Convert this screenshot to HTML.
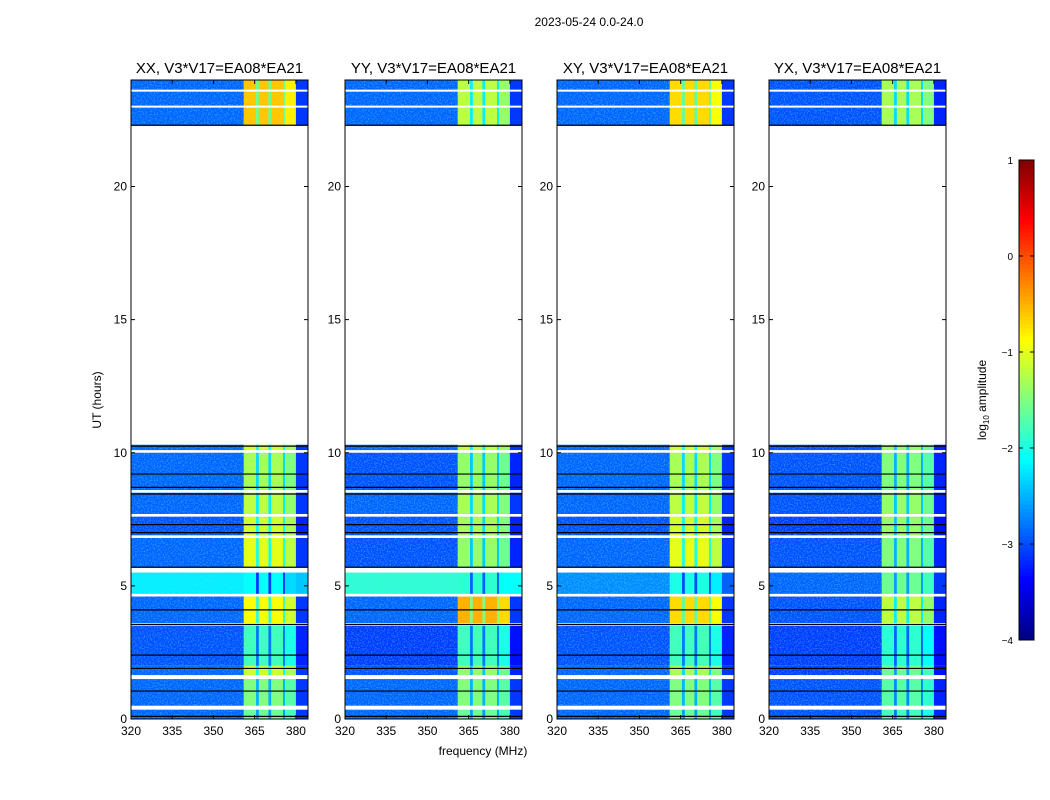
<!DOCTYPE html>
<html><head><meta charset="utf-8"><style>
body{margin:0;background:#fff}
svg{display:block;font-family:"Liberation Sans",sans-serif}
</style></head><body>
<svg id="fig" width="1050" height="800" viewBox="0 0 1050 800">
<defs>
<filter id="nz" x="0" y="0" width="100%" height="100%">
<feTurbulence type="fractalNoise" baseFrequency="0.7" numOctaves="1" seed="3"/>
<feColorMatrix type="matrix" values="0 0 0 0 0.1  0 0 0 0 0.75  0 0 0 0 1  0 0 0 -3 1.7"/>
</filter>
</defs>
<text x="589" y="26" font-size="12" text-anchor="middle">2023-05-24 0.0-24.0</text>
<text x="483" y="755" font-size="12" text-anchor="middle">frequency (MHz)</text>
<text x="0" y="0" font-size="12" text-anchor="middle" transform="translate(101,400) rotate(-90)">UT (hours)</text>
<g id="panels"></g>
<g id="cbar"></g>
<text x="0" y="0" font-size="12" text-anchor="middle" transform="translate(986,400) rotate(-90)">log<tspan font-size="8" dy="3">10</tspan><tspan dy="-3"> amplitude</tspan></text>
</svg>
<script>
const panelNames=["XX","YY","XY","YX"];
const panelLeft=[131,345,557,769];
const bandStart=[0,0.5,1.65,2.0,3.6,4.7,5.7,6.9,7.7,8.6,10.1,22.3];
const bandEnd=[0.35,1.5,2.0,3.5,4.6,5.5,6.8,7.6,8.5,10.0,10.3,24];
const bgXX=[-2.9,-2.9,-2.9,-3.0,-2.9,-2.2,-2.9,-3.0,-2.9,-2.9,-2.9,-2.9];
const bgYY=[-2.9,-2.9,-3.0,-3.1,-2.9,-1.9,-3.0,-3.0,-2.9,-3.0,-2.9,-2.9];
const bgXY=[-2.9,-2.9,-2.9,-3.0,-2.9,-2.7,-2.9,-3.0,-2.9,-2.9,-2.9,-2.9];
const bgYX=[-3.0,-3.0,-3.1,-3.1,-3.0,-2.9,-3.0,-3.1,-3.0,-3.0,-3.0,-3.0];
const rfiXX=[-1.6,-1.5,-1.1,-1.8,-0.9,-2.1,-1.0,-1.1,-1.2,-1.3,-1.1,-0.6];
const rfiYY=[-1.6,-1.5,-1.4,-1.8,-0.5,-1.9,-1.4,-1.3,-1.3,-1.4,-1.2,-1.2];
const rfiXY=[-1.6,-1.5,-1.3,-1.8,-0.7,-2.0,-1.0,-1.1,-1.2,-1.3,-1.1,-0.7];
const rfiYX=[-1.8,-1.7,-1.6,-1.9,-1.2,-1.6,-1.5,-1.4,-1.4,-1.5,-1.4,-1.3];
const segStart=[320,361,365.5,366.5,370,371,375.3,376,380];
const segEnd=[361,365.5,366.5,370,371,375.3,376,380,384.4];
const segIsRfi=[0,1,1,1,1,1,1,1,0];
const segOffset=[0,0,-1.0,0,-1.0,0,-1.0,-0.2,-0.2];
const whiteLines=[23.0,23.6];
const blackLines=[0.1,1.05,1.9,2.4,3.55,4.1,5.7,7.0,7.3,8.45,8.7,9.2,10.25,22.3];
const xTicks=[320,335,350,365,380];
const yTicks=[0,5,10,15,20];
const cbTicks=[1,0,-1,-2,-3,-4];

const NS="http://www.w3.org/2000/svg";
const W=177,TOP=80,BOT=719,FMIN=320,FMAX=384.4,TMAX=24,VMIN=-4,VMAX=1;
const yS=t=>BOT-(t/TMAX)*(BOT-TOP);
function jet(v){const n=Math.max(0,Math.min(1,(v-VMIN)/(VMAX-VMIN)));
 const c=x=>Math.round(255*Math.max(0,Math.min(1,x)));
 return `rgb(${c(1.5-Math.abs(4*n-3))},${c(1.5-Math.abs(4*n-2))},${c(1.5-Math.abs(4*n-1))})`;}
function mk(tag,at,parent){const e=document.createElementNS(NS,tag);for(const k in at)e.setAttribute(k,at[k]);parent.appendChild(e);return e;}
const bgs=[bgXX,bgYY,bgXY,bgYX],rfis=[rfiXX,rfiYY,rfiXY,rfiYX];
const P=document.getElementById("panels");
panelNames.forEach((nm,p)=>{
 const L=panelLeft[p];const xS=f=>L+(f-FMIN)/(FMAX-FMIN)*W;
 const g=mk("g",{},P);
 
 
 bandStart.forEach((t0,i)=>{
  segStart.forEach((f0,s)=>{
   const v=segIsRfi[s]?rfis[p][i]+segOffset[s]:bgs[p][i]+segOffset[s];
   const r=mk("rect",{x:xS(f0),y:yS(bandEnd[i]),width:xS(segEnd[s])-xS(f0)+0.3,height:yS(bandStart[i])-yS(bandEnd[i]),fill:jet(v)},g);
   
   
  });
  const n=mk("rect",{x:L,y:yS(bandEnd[i]),width:xS(361)-L,height:yS(bandStart[i])-yS(bandEnd[i]),filter:"url(#nz)",opacity:0.45},g);
  
  
 });
 whiteLines.forEach(t=>{const l=mk("rect",{x:L,y:yS(t)-1,width:W,height:2,fill:"#fff"},g);
  
  });
 blackLines.forEach(t=>{const l=mk("line",{x1:L,x2:L+W,y1:yS(t),y2:yS(t),stroke:"#000","stroke-width":1.2},g);
  
  });
 const fr=mk("rect",{x:L,y:TOP,width:W,height:BOT-TOP,fill:"none",stroke:"#000","stroke-width":1},g);
 
 
 const ti=mk("text",{x:L+W/2,y:73,"font-size":15,"text-anchor":"middle"},g);ti.textContent=nm+", V3*V17=EA08*EA21";
 
 
 xTicks.forEach(f=>{const x=xS(f);
  mk("line",{x1:x,x2:x,y1:BOT,y2:BOT-4,stroke:"#000"},g);mk("line",{x1:x,x2:x,y1:TOP,y2:TOP+4,stroke:"#000"},g);
  const tx=mk("text",{x:x,y:735,"font-size":12,"text-anchor":"middle"},g);tx.textContent=f;
  
  });
 yTicks.forEach(t=>{const y=yS(t);
  mk("line",{x1:L,x2:L+4,y1:y,y2:y,stroke:"#000"},g);mk("line",{x1:L+W,x2:L+W-4,y1:y,y2:y,stroke:"#000"},g);
  const tx=mk("text",{x:L-4,y:y+4,"font-size":12,"text-anchor":"end"},g);tx.textContent=t;
  
  });
});
const C=document.getElementById("cbar");
const CX=1019,CW=15,CT=160,CB=640;const cy=v=>CB-(v-VMIN)/(VMAX-VMIN)*(CB-CT);
for(let k=0;k<120;k++){const v0=VMIN+k*(VMAX-VMIN)/120,v1=VMIN+(k+1)*(VMAX-VMIN)/120;
 const r=mk("rect",{x:CX,y:cy(v1),width:CW,height:cy(v0)-cy(v1)+0.5,fill:jet((v0+v1)/2)},C);
 
 }
const cf=mk("rect",{x:CX,y:CT,width:CW,height:CB-CT,fill:"none",stroke:"#000"},C);


cbTicks.forEach(v=>{const y=cy(v);
 mk("line",{x1:CX,x2:CX+4,y1:y,y2:y,stroke:"#000"},C);mk("line",{x1:CX+CW,x2:CX+CW-4,y1:y,y2:y,stroke:"#000"},C);
 const tx=mk("text",{x:CX-6,y:y+4,"font-size":10,"text-anchor":"end"},C);tx.textContent=v<0?"\u2212"+(-v):v;
 
 });
</script>
</body></html>
